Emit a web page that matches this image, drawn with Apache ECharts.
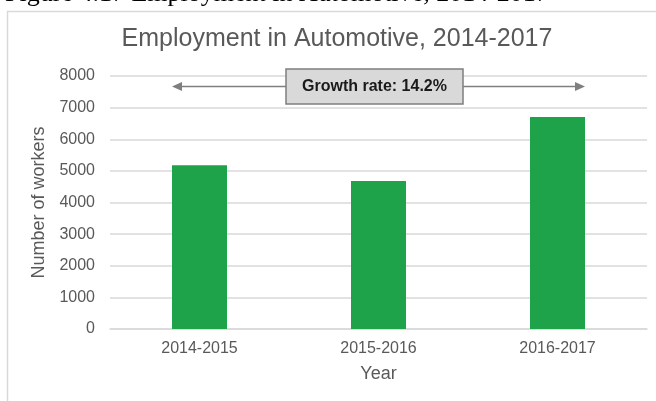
<!DOCTYPE html>
<html><head><meta charset="utf-8">
<script src="https://cdn.jsdelivr.net/npm/echarts@6/dist/echarts.min.js"></script>
<style>html,body{margin:0;padding:0;background:#fff;overflow:hidden}#c{width:656px;height:401px}</style>
</head><body><div id="c"></div>
<script>
const categories = ['2014-2015', '2015-2016', '2016-2017'];
const workers = [5180, 4680, 6700];
const yMin = 0, yMax = 8000, yStep = 1000;
const titleText = 'Employment in Automotive, 2014-2017';
const captionText = 'Figure 4.17 Employment in Automotive, 2014-2017';
const growthLabel = 'Growth rate: 14.2%';
const arrowValue = 7670;
const xName = 'Year';
const yName = 'Number of workers';

const FONT = "'Liberation Sans', Arial, sans-serif";
const GRAY = '#595959';
const BAR_W = 55;

const chart = echarts.init(document.getElementById('c'), null, {renderer: 'canvas'});
chart.setOption({
  animation: false,
  backgroundColor: '#fff',
  grid: {left: 110, right: 9, top: 76, bottom: 72, containLabel: false},
  xAxis: {
    type: 'category', data: categories,
    name: xName, nameLocation: 'middle', nameGap: 36,
    nameTextStyle: {color: GRAY, fontSize: 18, fontFamily: FONT},
    axisLine: {show: true, lineStyle: {color: '#d9d9d9', width: 1.5}},
    axisTick: {show: false},
    axisLabel: {color: GRAY, fontSize: 16, fontFamily: FONT, margin: 12}
  },
  yAxis: {
    type: 'value', min: yMin, max: yMax, interval: yStep,
    name: yName, nameLocation: 'middle', nameGap: 60,
    nameTextStyle: {color: GRAY, fontSize: 18, fontFamily: FONT},
    axisLine: {show: false}, axisTick: {show: false},
    axisLabel: {color: GRAY, fontSize: 16, fontFamily: FONT, margin: 15, formatter: v => String(v)},
    splitLine: {lineStyle: {color: '#d9d9d9', width: 1.5}}
  },
  series: [{
    type: 'bar', data: workers, barWidth: BAR_W,
    itemStyle: {color: '#1ea34a'}
  }]
});

const xa = chart.convertToPixel({xAxisIndex: 0}, categories[0]) - BAR_W / 2;
const xb = chart.convertToPixel({xAxisIndex: 0}, categories[categories.length - 1]) + BAR_W / 2;
const ay = chart.convertToPixel({yAxisIndex: 0}, arrowValue);
const bx = 286, bw = 177, bh = 35;
const AC = '#7f7f7f';

chart.setOption({
  graphic: [
    {type: 'rect', shape: {x: 7.5, y: 11.5, width: 700, height: 500},
     style: {fill: 'none', stroke: '#d9d9d9', lineWidth: 1.5}, z: 1},
    {type: 'text', x: 5, y: 7, style: {text: captionText, font: "26px 'Liberation Serif', 'Times New Roman', serif",
      fill: '#000', textAlign: 'left', textVerticalAlign: 'bottom', verticalAlign: 'bottom'}, z: 10},
    {type: 'text', x: 337, y: 39, style: {text: titleText, font: "25px " + FONT, fill: GRAY,
      textAlign: 'center', verticalAlign: 'middle', textVerticalAlign: 'middle'}, z: 10},
    {type: 'line', shape: {x1: xa + 9, y1: ay, x2: xb - 9, y2: ay}, style: {stroke: AC, lineWidth: 1.5}, z: 10},
    {type: 'polygon', shape: {points: [[xa, ay], [xa + 10, ay - 4.5], [xa + 10, ay + 4.5]]}, style: {fill: AC}, z: 10},
    {type: 'polygon', shape: {points: [[xb, ay], [xb - 10, ay - 4.5], [xb - 10, ay + 4.5]]}, style: {fill: AC}, z: 10},
    {type: 'rect', shape: {x: bx, y: ay - bh / 2, width: bw, height: bh},
     style: {fill: '#d9d9d9', stroke: AC, lineWidth: 1.5}, z: 11},
    {type: 'text', x: bx + bw / 2, y: ay, style: {text: growthLabel, font: "bold 16px " + FONT, fill: '#1a1a1a',
      textAlign: 'center', verticalAlign: 'middle', textVerticalAlign: 'middle'}, z: 12}
  ]
});
</script>
</body></html>
